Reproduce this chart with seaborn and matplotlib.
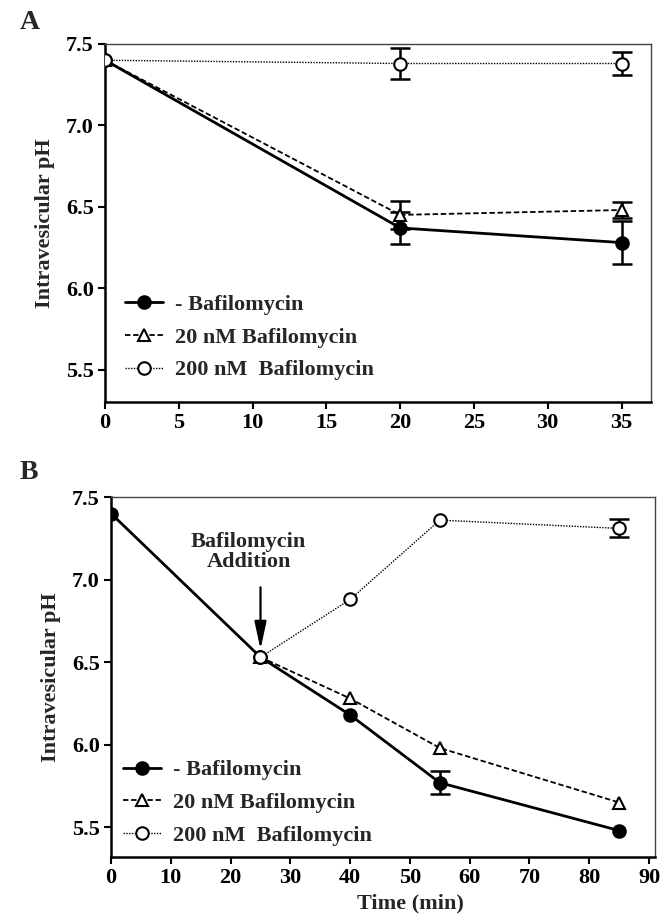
import matplotlib
matplotlib.use("Agg")
import matplotlib.pyplot as plt
import seaborn as sns
import numpy as np
import pandas as pd

sns.set_theme(style="white")
plt.rcParams['font.family'] = ['Liberation Serif', 'DejaVu Serif']
plt.rcParams['font.weight'] = 'bold'

# ---- Panel A data ----
a_time = [0, 20, 35]
a_none = [7.40, 6.37, 6.28]
a_none_err = [0.0, 0.10, 0.13]
a_20 = [7.40, 6.45, 6.48]
a_20_err = [0.0, 0.085, 0.05]
a_200 = [7.40, 7.38, 7.38]
a_200_err = [0.0, 0.095, 0.07]

# ---- Panel B data ----
b_time_none = [0, 25, 40, 55, 85]
b_none = [7.40, 6.53, 6.18, 5.77, 5.48]
b_none_err = [0.0, 0.0, 0.0, 0.07, 0.0]
b_time_add = [25, 40, 55, 85]
b_20 = [6.53, 6.28, 5.98, 5.65]
b_20_err = [0.0, 0.0, 0.0, 0.0]
b_200 = [6.53, 6.88, 7.36, 7.31]
b_200_err = [0.0, 0.0, 0.0, 0.055]

labels = ["- Bafilomycin", "20 nM Bafilomycin", "200 nM  Bafilomycin"]
a_xticks = [0, 5, 10, 15, 20, 25, 30, 35]
b_xticks = [0, 10, 20, 30, 40, 50, 60, 70, 80, 90]
yticks = [5.5, 6.0, 6.5, 7.0, 7.5]

fig = plt.figure(figsize=(6.65, 9.16), dpi=100)
axA = fig.add_axes([0.158, 0.561, 0.821, 0.391])
axB = fig.add_axes([0.167, 0.0644, 0.818, 0.393])

styles = [
    dict(marker='o', linestyle='-', lw=2.0, mfc='black', ms=9),
    dict(marker='^', linestyle=(0, (3, 1.5)), lw=1.3, mfc='white', ms=8),
    dict(marker='o', linestyle=(0, (1, 1)), lw=1.0, mfc='white', ms=9),
]

def draw(ax, xs, ys, errs):
    for x, y, e, st, lab in zip(xs, ys, errs, styles, labels):
        df = pd.DataFrame({"t": x, "pH": y})
        sns.lineplot(data=df, x="t", y="pH", ax=ax, color='black',
                     marker=st['marker'], linestyle=st['linestyle'],
                     linewidth=st['lw'], markerfacecolor=st['mfc'],
                     markeredgecolor='black', markeredgewidth=1.5,
                     markersize=st['ms'], label=lab, zorder=3)
        xe = [xi for xi, ei in zip(x, e) if ei > 0]
        ye = [yi for yi, ei in zip(y, e) if ei > 0]
        ee = [ei for ei in e if ei > 0]
        if xe:
            ax.errorbar(xe, ye, yerr=ee, fmt='none', ecolor='black',
                        elinewidth=1.8, capsize=7, capthick=1.8, zorder=2)

def style_axes(ax, xticks, xlim, ylim):
    ax.set_xlim(*xlim)
    ax.set_ylim(*ylim)
    ax.set_xticks(xticks)
    ax.set_xticklabels([str(t) for t in xticks], fontsize=16, fontweight='bold')
    ax.set_yticks(yticks)
    ax.set_yticklabels([f"{t:.1f}" for t in yticks], fontsize=16, fontweight='bold')
    ax.tick_params(axis='both', direction='out', length=5, width=1.5,
                   left=True, bottom=True, colors='black', pad=3)
    for s in ['left', 'bottom']:
        ax.spines[s].set_linewidth(1.8)
        ax.spines[s].set_color('black')
    for s in ['top', 'right']:
        ax.spines[s].set_linewidth(1.0)
        ax.spines[s].set_color('#444444')
    ax.set_ylabel("Intravesicular pH", fontsize=16, fontweight='bold', labelpad=8)
    ax.grid(False)

draw(axA, [a_time, a_time, a_time], [a_none, a_20, a_200],
     [a_none_err, a_20_err, a_200_err])
style_axes(axA, a_xticks, (0, 37), (5.3, 7.5))
axA.set_xlabel("")

draw(axB, [b_time_none, b_time_add, b_time_add], [b_none, b_20, b_200],
     [b_none_err, b_20_err, b_200_err])
style_axes(axB, b_xticks, (0, 91), (5.32, 7.5))
axB.set_xlabel("Time (min)", fontsize=16, fontweight='bold')
axB.xaxis.set_label_coords(0.55, -0.102)

for ax, loc in [(axA, (0.0, 0.005)), (axB, (-0.015, -0.025))]:
    leg = ax.legend(loc='lower left', bbox_to_anchor=loc, frameon=False,
                    handlelength=1.7, handletextpad=0.55,
                    labelspacing=0.55, prop={'weight': 'bold', 'size': 16})

# annotation in panel B
axB.annotate("", xy=(25, 6.56), xytext=(25, 6.97),
             arrowprops=dict(arrowstyle='-|>,head_width=0.3,head_length=1.4',
                             color='black', lw=1.6))
axB.text(23, 7.17, "Bafilomycin\nAddition", ha='center', va='center',
         fontsize=16, fontweight='bold', linespacing=1.0)

fig.text(0.03, 0.975, "A", fontsize=20, fontweight='bold', va='center', ha='left')
fig.text(0.03, 0.484, "B", fontsize=20, fontweight='bold', va='center', ha='left')

fig.savefig("out.png", dpi=100)
